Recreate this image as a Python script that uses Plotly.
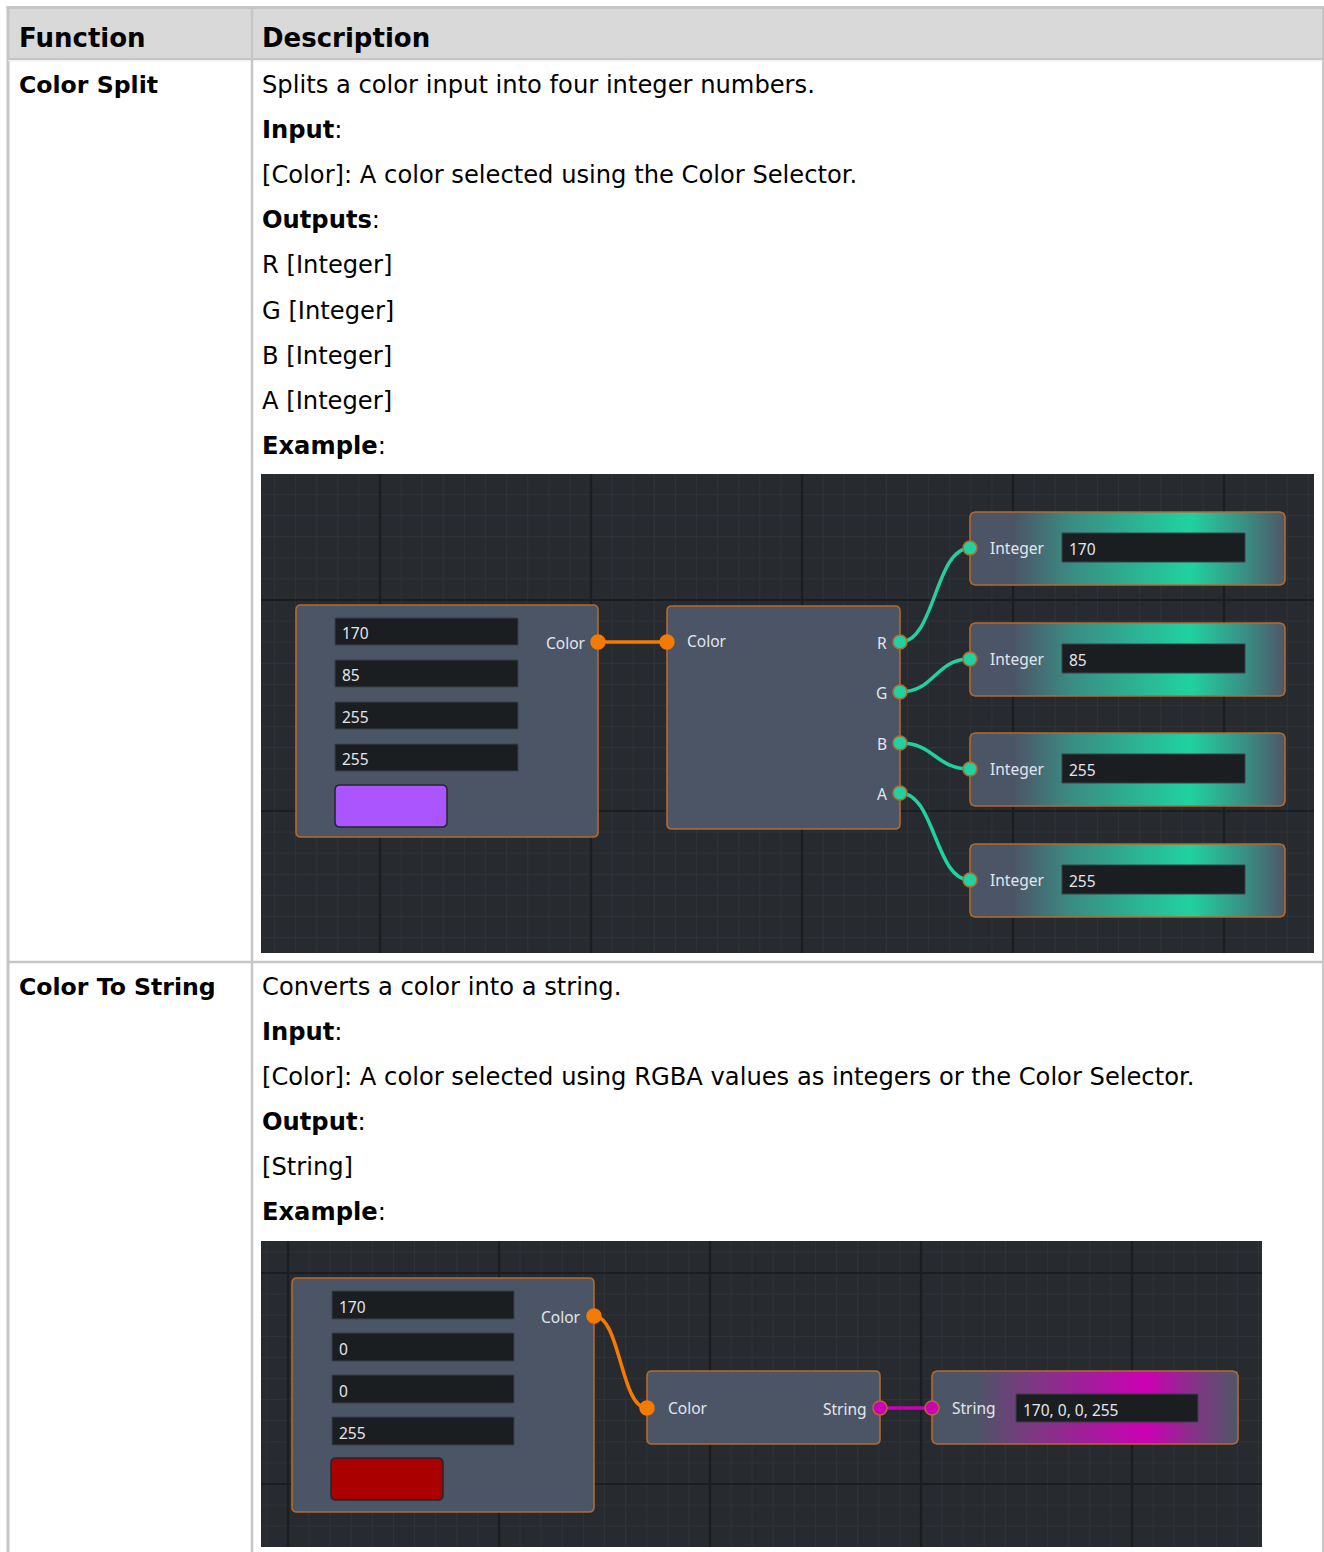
import numpy as np
import plotly.graph_objects as go

W, H = 1324, 1552

# ---------------- data ----------------
columns = ["Function", "Description"]
functions = ["Color Split", "Color To String"]
desc_split = [
    "Splits a color input into four integer numbers.",
    "<b>Input</b>:",
    "[Color]: A color selected using the Color Selector.",
    "<b>Outputs</b>:",
    "R [Integer]",
    "G [Integer]",
    "B [Integer]",
    "A [Integer]",
    "<b>Example</b>:",
]
desc_string = [
    "Converts a color into a string.",
    "<b>Input</b>:",
    "[Color]: A color selected using RGBA values as integers or the Color Selector.",
    "<b>Output</b>:",
    "[String]",
    "<b>Example</b>:",
]
split_rgba = [170, 85, 255, 255]
split_channels = ["R", "G", "B", "A"]
string_rgba = [170, 0, 0, 255]
node_labels = {"color": "Color", "integer": "Integer", "string": "String"}

# ---------------- styles ----------------
TFONT = "DejaVu Sans"
NFONT = "Noto Sans"
BODY_SIZE = 24.2
ROWHEAD_SIZE = 23.6
HEAD_SIZE = 26
BORDER = "#c6c6c6"
HEAD_BG = "#d9d9d9"
IMG_BG = "#272a2f"
MINOR = "#2f3338"
MAJOR = "#1b1d20"
NODE_BG = "#4c5566"
NODE_LINE = "#b5692e"
FIELD_BG = "#1b1e21"
FIELD_LINE = "#3b4048"
NTEXT = "#e2e6ec"
ORANGE = "#f57a00"
TEAL = "#20d2a0"
MAGENTA = "#cc00b4"

shapes = []
annotations = []
traces = []


def rr_path(x0, y0, x1, y1, r):
    return (f"M{x0+r},{y0} H{x1-r} Q{x1},{y0} {x1},{y0+r} V{y1-r} Q{x1},{y1} {x1-r},{y1} "
            f"H{x0+r} Q{x0},{y1} {x0},{y1-r} V{y0+r} Q{x0},{y0} {x0+r},{y0} Z")


def rr_points(x0, y0, x1, y1, r, n=8):
    xs, ys = [], []
    corners = [(x1 - r, y0 + r, -90, 0), (x1 - r, y1 - r, 0, 90),
               (x0 + r, y1 - r, 90, 180), (x0 + r, y0 + r, 180, 270)]
    for cx, cy, a0, a1 in corners:
        for a in np.linspace(a0, a1, n):
            xs.append(cx + r * np.cos(np.radians(a)))
            ys.append(cy + r * np.sin(np.radians(a)))
    xs.append(xs[0]); ys.append(ys[0])
    return xs, ys


def rect(x0, y0, x1, y1, fill, line=None, lw=0, layer="below"):
    shapes.append(dict(type="rect", xref="x", yref="y", x0=x0, y0=y0, x1=x1, y1=y1,
                       fillcolor=fill, line=dict(color=line or fill, width=lw), layer=layer))


def rrect(x0, y0, x1, y1, r, fill, line, lw, layer="below"):
    shapes.append(dict(type="path", xref="x", yref="y", path=rr_path(x0, y0, x1, y1, r),
                       fillcolor=fill, line=dict(color=line, width=lw), layer=layer))


def hline(y, x0, x1, color, w):
    shapes.append(dict(type="line", xref="x", yref="y", x0=x0, x1=x1, y0=y, y1=y,
                       line=dict(color=color, width=w), layer="below"))


def vline(x, y0, y1, color, w):
    shapes.append(dict(type="line", xref="x", yref="y", x0=x, x1=x, y0=y0, y1=y1,
                       line=dict(color=color, width=w), layer="below"))


def text(x, y, s, size, color="#000", font=TFONT, anchor="left"):
    annotations.append(dict(x=x, y=y, xref="x", yref="y", text=s, showarrow=False,
                            xanchor=anchor, yanchor="middle",
                            font=dict(family=font, size=size, color=color)))


def port(x, y, fill, r=7, border=None, layer="above"):
    shapes.append(dict(type="circle", xref="x", yref="y", x0=x - r, x1=x + r, y0=y - r, y1=y + r,
                       fillcolor=fill, line=dict(color=border or fill, width=1.5), layer=layer))


def wire(x0, y0, x1, y1, color):
    d = 0.5 * (x1 - x0)
    shapes.append(dict(type="path", xref="x", yref="y",
                       path=f"M{x0},{y0} C{x0+d},{y0} {x1-d},{y1} {x1},{y1}",
                       line=dict(color=color, width=3.5), layer="above"))


def grid(x0, y0, x1, y1, gx, gy, step):
    rect(x0, y0, x1, y1, IMG_BG)
    minor = ""
    major = ""
    k0 = int(np.floor((x0 - gx) / step)) - 1
    k1 = int(np.ceil((x1 - gx) / step)) + 1
    for k in range(k0 * 10, k1 * 10):
        x = gx + k * step / 10
        if x0 < x < x1:
            seg = f"M{x:.1f},{y0} V{y1} "
            if k % 10 == 0:
                major += seg
            else:
                minor += seg
    k0 = int(np.floor((y0 - gy) / step)) - 1
    k1 = int(np.ceil((y1 - gy) / step)) + 1
    for k in range(k0 * 10, k1 * 10):
        y = gy + k * step / 10
        if y0 < y < y1:
            seg = f"M{x0},{y:.1f} H{x1} "
            if k % 10 == 0:
                major += seg
            else:
                minor += seg
    shapes.append(dict(type="path", xref="x", yref="y", path=minor,
                       line=dict(color=MINOR, width=1.2), layer="below"))
    shapes.append(dict(type="path", xref="x", yref="y", path=major,
                       line=dict(color=MAJOR, width=2.2), layer="below"))


def field(x0, y0, x1, y1, value, layer="below"):
    rect(x0, y0, x1, y1, FIELD_BG, FIELD_LINE, 1, layer)
    text(x0 + 5, (y0 + y1) / 2 + 1.5, str(value), 15.5, NTEXT, NFONT)


def grad_node(x0, y0, x1, y1, peak, mid):
    xs, ys = rr_points(x0, y0, x1, y1, 5)
    traces.append(go.Scatter(
        x=xs, y=ys, mode="lines", fill="toself", hoverinfo="skip", showlegend=False,
        line=dict(color=NODE_LINE, width=1.6),
        fillgradient=dict(type="horizontal",
                          colorscale=[[0, NODE_BG], [0.14, NODE_BG], [0.32, mid],
                                      [0.7, peak], [0.88, mid], [1, "#4f5768"]])))


def rgb(v):
    return f"rgb({v[0]},{v[1]},{v[2]})"


# ---------------- table ----------------
TL, TR, TT = 8, 1323, 7.5
HB, R1B, CX = 59, 962, 252
rect(TL, TT, TR, HB, HEAD_BG)
hline(TT, 6.5, W, BORDER, 3)
vline(TL, 6, H, BORDER, 3)
vline(TR, 6, H, BORDER, 2)
hline(HB, TL, TR, BORDER, 2)
hline(HB + 1.8, TL, TR, "#ebebeb", 1)
vline(CX, TT, H, BORDER, 2.5)
hline(R1B, TL, TR, BORDER, 2.5)

C1X, C2X = 17, 260
text(C1X, 37.5, f"<b>{columns[0]}</b>", HEAD_SIZE)
text(C2X, 37.5, f"<b>{columns[1]}</b>", HEAD_SIZE)

text(C1X, 85, f"<b>{functions[0]}</b>", ROWHEAD_SIZE)
for i, s in enumerate(desc_split):
    text(C2X, 85 + 45.1 * i, s, BODY_SIZE)
text(C1X, 987, f"<b>{functions[1]}</b>", ROWHEAD_SIZE)
for i, s in enumerate(desc_string):
    text(C2X, 987 + 45 * i, s, BODY_SIZE)

# ---------------- example 1 : Color Split ----------------
grid(261, 474, 1314, 953, 380, 600, 211)

# color construct node
rrect(296, 605, 598, 837, 5, NODE_BG, NODE_LINE, 1.6)
for i, v in enumerate(split_rgba):
    field(335, 618 + 42 * i, 518, 645 + 42 * i, v)
rrect(335, 785, 447, 827, 5, rgb(split_rgba), "#23262b", 1.5)
text(588, 643, node_labels["color"], 15.5, NTEXT, NFONT, "right")

# split node
rrect(667, 606, 900, 829, 5, NODE_BG, NODE_LINE, 1.6)
text(685, 641, node_labels["color"], 15.5, NTEXT, NFONT)
wire(598, 642, 667, 642, ORANGE)
port(598, 642, ORANGE)
port(667, 642, ORANGE)

int_tops = [512, 623, 733, 844]
out_y = [642, 692, 743, 793]
for ch, v, top, oy in zip(split_channels, split_rgba, int_tops, out_y):
    grad_node(970, top, 1285, top + 73, TEAL, "#3a8c82")
    field(1062, top + 21, 1245, top + 50, v, layer="above")
    text(988, top + 36, node_labels["integer"], 15.5, NTEXT, NFONT)
    text(889, oy + 1, ch, 15.5, NTEXT, NFONT, "right")
    wire(900, oy, 970, top + 36, TEAL)
    port(900, oy, TEAL, border=NODE_LINE)
    port(970, top + 36, TEAL, border=NODE_LINE)

# ---------------- example 2 : Color To String ----------------
grid(261, 1241, 1262, 1547, 288, 1273, 211)

rrect(292, 1278, 594, 1512, 5, NODE_BG, NODE_LINE, 1.6)
for i, v in enumerate(string_rgba):
    field(332, 1291 + 42 * i, 514, 1319 + 42 * i, v)
rrect(331, 1458, 443, 1500, 5, rgb(string_rgba), "#23262b", 1.5)
text(583, 1317, node_labels["color"], 15.5, NTEXT, NFONT, "right")

rrect(647, 1371, 880, 1444, 5, NODE_BG, NODE_LINE, 1.6)
text(666, 1408, node_labels["color"], 15.5, NTEXT, NFONT)
text(869, 1409, node_labels["string"], 15.5, NTEXT, NFONT, "right")

grad_node(932, 1371, 1238, 1444, MAGENTA, "#7a3a82")
field(1016, 1394, 1198, 1422, ", ".join(str(v) for v in string_rgba), layer="above")
text(950, 1408, node_labels["string"], 15.5, NTEXT, NFONT)

wire(594, 1316, 647, 1408, ORANGE)
port(594, 1316, ORANGE)
port(647, 1408, ORANGE)
wire(880, 1408, 932, 1408, MAGENTA)
port(880, 1408, MAGENTA, border=NODE_LINE)
port(932, 1408, MAGENTA, border=NODE_LINE)

# ---------------- figure ----------------
fig = go.Figure(data=traces)
fig.update_layout(
    width=W, height=H, autosize=False,
    margin=dict(l=0, r=0, t=0, b=0, pad=0),
    paper_bgcolor="white", plot_bgcolor="white",
    shapes=shapes, annotations=annotations, showlegend=False,
    xaxis=dict(range=[0, W], visible=False, fixedrange=True),
    yaxis=dict(range=[H, 0], visible=False, fixedrange=True),
)
fig.write_html("out.html", config={"displayModeBar": False, "staticPlot": True},
               post_script="document.body.style.margin='0';document.body.style.overflow='hidden';")
